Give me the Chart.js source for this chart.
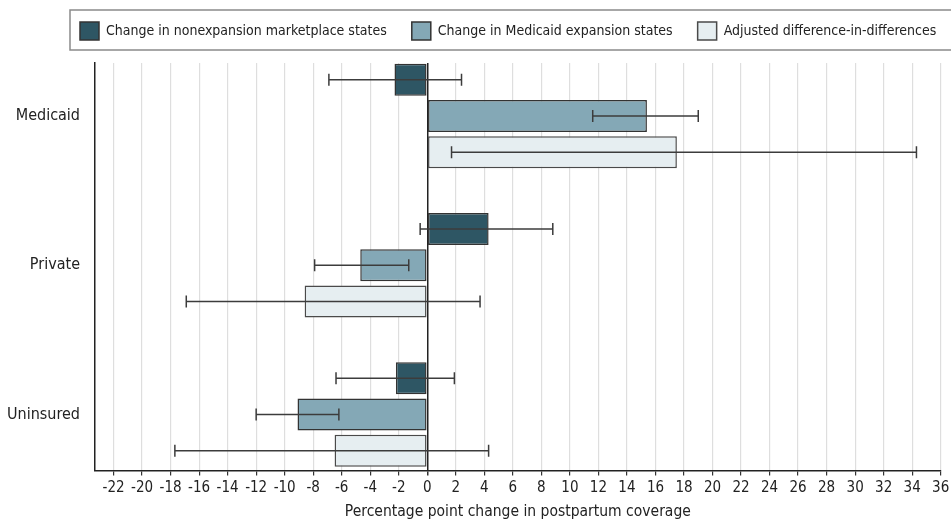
<!DOCTYPE html>
<html>
<head>
    <title>Postpartum coverage</title>
    <script src="https://cdn.jsdelivr.net/npm/chart.js"></script>
    <style>
        body {
            margin: 0;
            background-color: white;
        }
        .chart-container {
            position: relative;
            width: 951px;
            height: 520px;
        }
    </style>
</head>
<body>
    <div class="chart-container">
        <canvas id="coverageChart"></canvas>
    </div>

    <script>
        const categories = ['Medicaid', 'Private', 'Uninsured'];

        const nonexpansion = [-2.3, 4.3, -2.2];
        const nonexpansionLow = [-6.9, -0.5, -6.4];
        const nonexpansionHigh = [2.4, 8.8, 1.9];

        const expansion = [15.4, -4.7, -9.1];
        const expansionLow = [11.6, -7.9, -12.0];
        const expansionHigh = [19.0, -1.3, -6.2];

        const did = [17.5, -8.6, -6.5];
        const didLow = [1.7, -16.9, -17.7];
        const didHigh = [34.3, 3.7, 4.3];

        const xTicks = [-22, -20, -18, -16, -14, -12, -10, -8, -6, -4, -2, 0, 2, 4, 6, 8,
                        10, 12, 14, 16, 18, 20, 22, 24, 26, 28, 30, 32, 34, 36];

        const FONT = "'Liberation Sans Narrow', 'DejaVu Sans Condensed', 'Roboto Condensed', sans-serif";
        Chart.defaults.font.family = FONT;
        Chart.defaults.color = '#222';

        function points(values) {
            return values.map((v, i) => ({ x: v, y: i }));
        }

        // whiskers for the confidence intervals
        const errorBars = {
            id: 'errorBars',
            afterDatasetsDraw(chart) {
                const ctx = chart.ctx;
                const xScale = chart.scales.x;
                ctx.save();
                ctx.strokeStyle = '#3c3c3c';
                ctx.lineWidth = 1.5;
                chart.data.datasets.forEach((ds, i) => {
                    const meta = chart.getDatasetMeta(i);
                    meta.data.forEach((bar, j) => {
                        const y = bar.y;
                        const x1 = xScale.getPixelForValue(ds.ciLow[j]);
                        const x2 = xScale.getPixelForValue(ds.ciHigh[j]);
                        ctx.beginPath();
                        ctx.moveTo(x1, y);
                        ctx.lineTo(x2, y);
                        ctx.moveTo(x1, y - 6);
                        ctx.lineTo(x1, y + 6);
                        ctx.moveTo(x2, y - 6);
                        ctx.lineTo(x2, y + 6);
                        ctx.stroke();
                    });
                });
                ctx.restore();
            }
        };

        // legend: extra room below it, items start near x=80, and a frame round it
        const legendFrame = {
            id: 'legendFrame',
            beforeLayout(chart) {
                const legend = chart.legend;
                if (!legend || legend._patched) return;
                const fit = legend.fit;
                legend.fit = function () {
                    fit.call(this);
                    this.height += 10;
                };
                legend._patched = true;
            },
            afterLayout(chart) {
                const legend = chart.legend;
                const pad = legend.options.labels.padding;
                legend.left = 80 - pad;
                legend.right = chart.width + 40;
                legend.top -= 3;
                legend.bottom -= 3;
            },
            afterDraw(chart) {
                const boxes = chart.legend.legendHitBoxes;
                if (!boxes || !boxes.length) return;
                const first = boxes[0];
                const cy = first.top + first.height / 2;
                const ctx = chart.ctx;
                ctx.save();
                ctx.strokeStyle = '#8a8a8a';
                ctx.lineWidth = 1.5;
                ctx.strokeRect(first.left - 10, cy - 21, chart.width + 20, 40);
                ctx.restore();
            }
        };

        const ctx = document.getElementById('coverageChart').getContext('2d');
        const chart = new Chart(ctx, {
            type: 'bar',
            data: {
                datasets: [{
                    label: 'Change in nonexpansion marketplace states',
                    data: points(nonexpansion),
                    ciLow: nonexpansionLow,
                    ciHigh: nonexpansionHigh,
                    backgroundColor: '#2e5664',
                    borderColor: '#333',
                    borderWidth: 1.5,
                    borderSkipped: false
                }, {
                    label: 'Change in Medicaid expansion states',
                    data: points(expansion),
                    ciLow: expansionLow,
                    ciHigh: expansionHigh,
                    backgroundColor: '#84a8b6',
                    borderColor: '#333',
                    borderWidth: 1.5,
                    borderSkipped: false
                }, {
                    label: 'Adjusted difference-in-differences',
                    data: points(did),
                    ciLow: didLow,
                    ciHigh: didHigh,
                    backgroundColor: '#e6eef1',
                    borderColor: '#4a4a4a',
                    borderWidth: 1.5,
                    borderSkipped: false
                }]
            },
            options: {
                indexAxis: 'y',
                responsive: true,
                maintainAspectRatio: false,
                animation: false,
                categoryPercentage: 0.73,
                barPercentage: 0.88,
                layout: {
                    padding: { left: 0, right: 10.3, top: 0, bottom: 0 }
                },
                scales: {
                    x: {
                        type: 'linear',
                        min: -23.3,
                        max: 36,
                        afterBuildTicks: scale => {
                            scale.ticks = xTicks.map(v => ({ value: v }));
                        },
                        afterFit: scale => {
                            scale.paddingLeft = 0;
                            scale.paddingRight = 10.3;
                        },
                        grid: {
                            color: c => c.tick && c.tick.value === 0 ? '#222' : '#dedede',
                            lineWidth: c => c.tick && c.tick.value === 0 ? 1.5 : 1.2,
                            tickColor: '#333',
                            tickLength: 5
                        },
                        border: { color: '#222', width: 1.5 },
                        ticks: {
                            autoSkip: false,
                            maxRotation: 0,
                            padding: 5.5,
                            font: { size: 15, lineHeight: 1 }
                        },
                        title: {
                            display: true,
                            text: 'Percentage point change in postpartum coverage',
                            font: { size: 15.5, lineHeight: 1 },
                            padding: { top: 3, bottom: 0 }
                        }
                    },
                    y: {
                        type: 'linear',
                        reverse: true,
                        offset: false,
                        min: -0.355,
                        max: 2.375,
                        afterBuildTicks: scale => {
                            scale.ticks = categories.map((c, i) => ({ value: i }));
                        },
                        afterFit: scale => {
                            scale.width = 95;
                        },
                        grid: { display: false, drawTicks: false },
                        border: { color: '#222', width: 1.5 },
                        ticks: {
                            padding: 15,
                            font: { size: 16 },
                            callback: v => categories[v]
                        }
                    }
                },
                plugins: {
                    legend: {
                        position: 'top',
                        align: 'start',
                        labels: {
                            boxWidth: 19,
                            boxHeight: 18,
                            padding: 25,
                            font: { size: 14 },
                            color: '#222'
                        }
                    },
                    tooltip: { enabled: false }
                }
            },
            plugins: [errorBars, legendFrame]
        });
    </script>
</body>
</html>
